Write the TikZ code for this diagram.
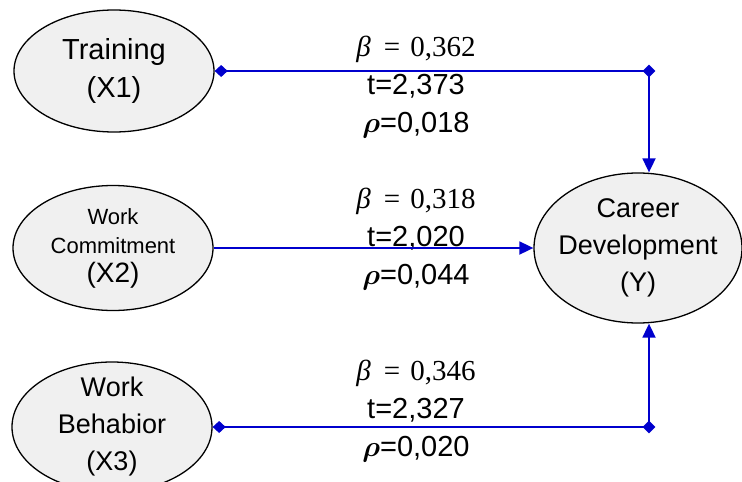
\RequirePackage{fix-cm}
\documentclass[tikz,border=0pt]{standalone}
\usepackage{amsmath,amssymb}
\usepackage[no-math]{fontspec}
\setmainfont{Liberation Sans}
\newfontfamily\coefserif{Liberation Serif}
\usetikzlibrary{arrows.meta,shapes.geometric,positioning}
\definecolor{lnkblue}{RGB}{0,0,205}
\definecolor{varfill}{RGB}{240,240,240}
\newcommand{\betaval}[1]{{\coefserif\textit{β}\hspace{0.45em}=\hspace{0.35em}#1}}

\begin{document}
\begin{tikzpicture}[x=1pt, y=-1pt,
    var/.style={ellipse, draw, line width=1.3pt, fill=varfill, inner sep=0pt, minimum width=200pt, minimum height=122pt},
    vtext/.style={align=center, font=\fontsize{27}{37}\selectfont},
    coef/.style={align=center, font=\fontsize{29}{38}\selectfont, inner sep=0pt},
    link/.style={draw=lnkblue, line width=1.8pt},
    corner/.style={diamond, fill=lnkblue, inner sep=0pt, minimum size=13pt},
    arr/.style={-{Triangle[length=14pt, width=13pt]}},
    dia/.style={{Diamond[length=13pt, width=12pt]}-}
]
\clip (0,0) rectangle (742,482);
\node[var, label={[vtext, font=\fontsize{29}{38}\selectfont]center:Training\\(X1)}] (trn) at (114,71) {};
\node[var, minimum height=125pt, label={[vtext, font=\fontsize{22}{29}\selectfont]center:Work\\Commitment\\\fontsize{28}{34}\selectfont(X2)}] (wcm) at (113,248) {};
\node[var, minimum height=130pt, label={[vtext]center:Work\\Behabior\\(X3)}] (wbh) at (112,427) {};
\node[var, minimum width=208pt, minimum height=150pt, label={[vtext]center:Career\\Development\\(Y)}] (car) at (638,248) {};

\node[coef] (c1) at (416,87) {\betaval{0,362}\\t=2,373\\$\boldsymbol{\rho}$=0,018};
\node[coef] (c2) at (416,239) {\betaval{0,318}\\t=2,020\\$\boldsymbol{\rho}$=0,044};
\node[coef] (c3) at (416,411) {\betaval{0,346}\\t=2,327\\$\boldsymbol{\rho}$=0,020};

\node[corner] (k1) at (649,71) {};
\node[corner] (k3) at (649,427) {};

\draw[link, dia] (trn.east) -- (k1.center);
\draw[link, arr] (k1.center) -- (car.north -| k1);
\draw[link, arr] (wcm.east) -- (car.west);
\draw[link, dia] (wbh.east) -- (k3.center);
\draw[link, arr] (k3.center) -- (car.south -| k3);
\end{tikzpicture}
\end{document}
